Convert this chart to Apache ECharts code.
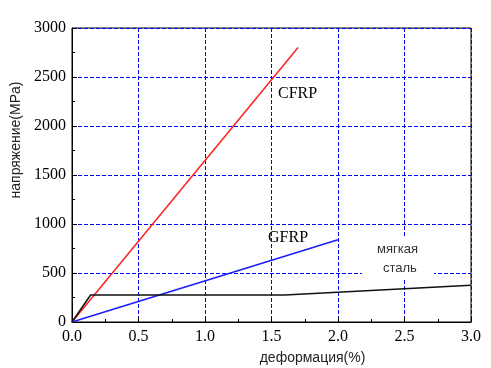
<!DOCTYPE html>
<html>
<head>
<meta charset="utf-8">
<script src="https://cdn.jsdelivr.net/npm/echarts@6/dist/echarts.min.js"></script>
<style>
    html, body {margin: 0; padding: 0; background: #fff;}
    #chart {width: 491px; height: 368px;}
</style>
</head>
<body>
<div id="chart"></div>
<script>
// деформация (%) / напряжение (MPa)
var cfrpData = [[0, 0], [1.7, 2800]];
var gfrpData = [[0, 0], [2.0, 840]];
var steelData = [[0, 0], [0.14, 275], [1.6, 275], [3.0, 375]];
var xTicks = [0, 3, 0.5];
var yTicks = [0, 3000, 500];

var myChart = echarts.init(document.getElementById('chart'));
var serif = '"Liberation Serif", "Times New Roman", serif';
var sans = '"Liberation Sans", Arial, sans-serif';

function lineSeries(name, data, color) {
    return {
        name: name,
        type: 'line',
        data: data,
        symbol: 'none',
        lineStyle: {color: color, width: 1.5},
        z: 5
    };
}

var option = {
    animation: false,
    grid: {
        left: 72, right: 20, top: 28, bottom: 46,
        outerBoundsMode: 'none',
        containLabel: false,
        show: true, borderColor: '#000', borderWidth: 1
    },
    xAxis: {
        type: 'value',
        min: xTicks[0], max: xTicks[1], interval: xTicks[2],
        name: 'деформация(%)',
        nameLocation: 'middle',
        nameGap: 29,
        nameTextStyle: {fontFamily: sans, fontSize: 14, color: '#222', padding: [0, 0, 0, 82]},
        axisLine: {lineStyle: {color: '#000'}},
        axisTick: {inside: true, length: 5, lineStyle: {color: '#000'}},
        minorTick: {show: true, splitNumber: 2, length: 3, lineStyle: {color: '#000'}},
        axisLabel: {
            fontFamily: serif, fontSize: 16, color: '#000', margin: 7,
            formatter: function (v) { return v.toFixed(1); }
        },
        splitLine: {lineStyle: {color: '#0000ff', type: [4, 2], width: 1}}
    },
    yAxis: {
        type: 'value',
        min: yTicks[0], max: yTicks[1], interval: yTicks[2],
        name: 'напряжение(MPa)',
        nameLocation: 'middle',
        nameGap: 48,
        nameTextStyle: {fontFamily: sans, fontSize: 14, color: '#222', padding: [0, 0, 0, 70]},
        axisLine: {show: true, lineStyle: {color: '#000'}},
        axisTick: {show: true, inside: true, length: 5, lineStyle: {color: '#000'}},
        minorTick: {show: true, splitNumber: 2, length: 3, lineStyle: {color: '#000'}},
        axisLabel: {
            fontFamily: serif, fontSize: 16, color: '#000', margin: 6,
            formatter: function (v) { return String(v); }
        },
        splitLine: {lineStyle: {color: '#0000ff', type: [4, 2], width: 1}}
    },
    graphic: [
        {type: 'text', left: 278, top: 86, style: {text: 'CFRP', font: '16px ' + serif, fill: '#000'}},
        {type: 'text', left: 268, top: 230, style: {text: 'GFRP', font: '16px ' + serif, fill: '#000'}},
        {type: 'rect', shape: {x: 362, y: 236, width: 72, height: 42}, style: {fill: '#fff'}, z: 3},
        {type: 'text', left: 377, top: 243, z: 4, style: {text: 'мягкая', font: '13px ' + sans, fill: '#333'}},
        {type: 'text', left: 383, top: 262, z: 4, style: {text: 'сталь', font: '13px ' + sans, fill: '#333'}}
    ],
    series: [
        lineSeries('CFRP', cfrpData, '#ff2020'),
        lineSeries('GFRP', gfrpData, '#1a1aff'),
        lineSeries('мягкая сталь', steelData, '#111')
    ]
};
myChart.setOption(option, true);
</script>
</body>
</html>
